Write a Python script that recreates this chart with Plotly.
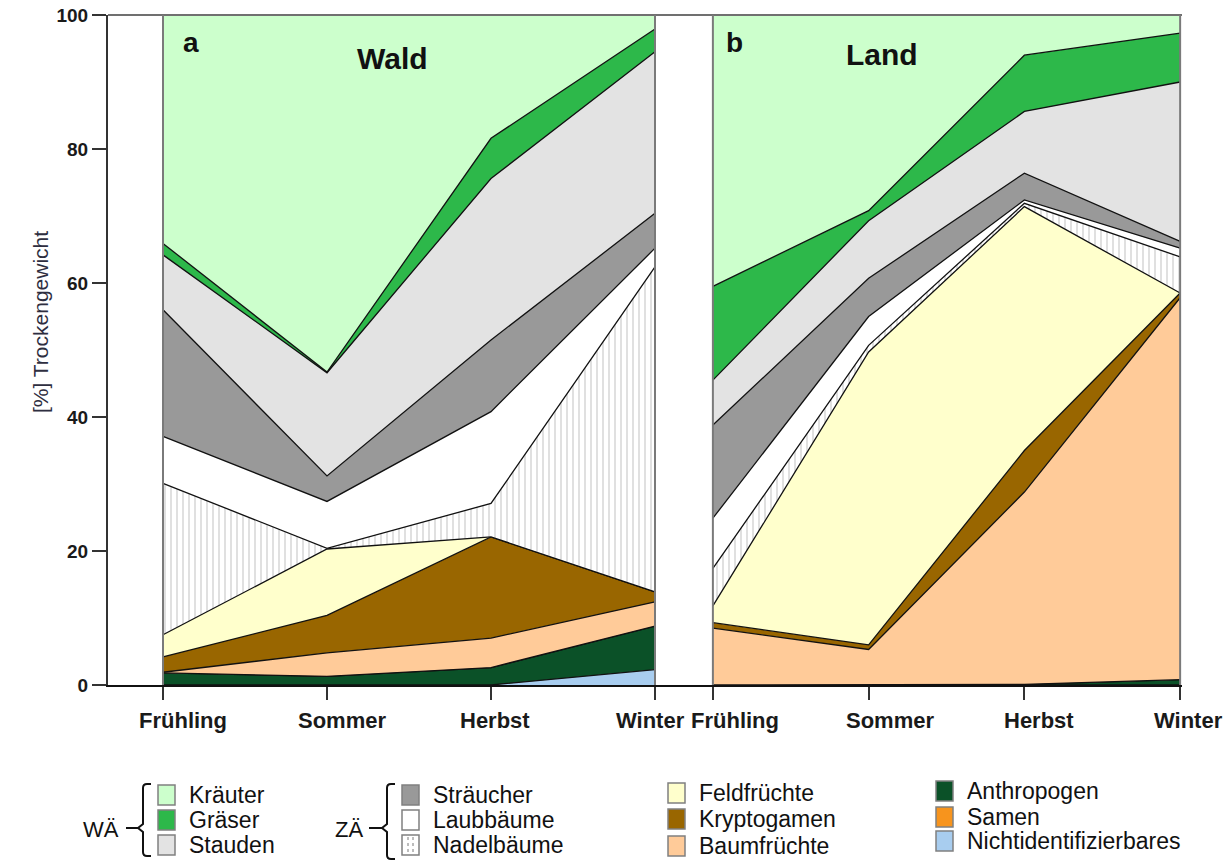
import plotly.graph_objects as go

# ---- data -------------------------------------------------------------
seasons = ["Frühling", "Sommer", "Herbst", "Winter"]
x_pos = [0, 1, 2, 3]

# category order from bottom to top of the stack
categories = ["Nichtidentifizierbares", "Anthropogen", "Samen", "Baumfrüchte",
              "Kryptogamen", "Feldfrüchte", "Nadelbäume", "Laubbäume",
              "Sträucher", "Stauden", "Gräser", "Kräuter"]

# Wald: share of dry weight [%] per season
wald_nichtidentifizierbares = [0.0, 0.0, 0.0, 2.3]
wald_anthropogen = [1.8, 1.3, 2.6, 6.5]
wald_samen = [0.0, 0.0, 0.0, 0.0]
wald_baumfruechte = [0.1, 3.5, 4.4, 3.6]
wald_kryptogamen = [2.3, 5.6, 15.1, 1.5]
wald_feldfruechte = [3.3, 9.9, 0.0, 0.0]
wald_nadelbaeume = [22.6, 0.1, 5.0, 48.5]
wald_laubbaeume = [7.0, 7.0, 13.7, 2.8]
wald_straeucher = [18.9, 3.8, 10.7, 5.2]
wald_stauden = [8.2, 15.4, 24.1, 24.1]
wald_graeser = [1.7, 0.1, 6.0, 3.4]
wald_kraeuter = [34.1, 53.3, 18.4, 2.1]

# Land: share of dry weight [%] per season
land_nichtidentifizierbares = [0.0, 0.0, 0.0, 0.0]
land_anthropogen = [0.0, 0.0, 0.1, 0.8]
land_samen = [0.0, 0.0, 0.0, 0.0]
land_baumfruechte = [8.5, 5.3, 28.7, 57.0]
land_kryptogamen = [0.8, 0.7, 6.2, 0.7]
land_feldfruechte = [2.5, 43.7, 36.4, 0.0]
land_nadelbaeume = [5.6, 1.0, 0.5, 5.4]
land_laubbaeume = [7.5, 4.3, 0.5, 1.3]
land_straeucher = [13.9, 5.7, 4.0, 1.0]
land_stauden = [6.7, 8.6, 9.2, 23.8]
land_graeser = [14.0, 1.5, 8.4, 7.3]
land_kraeuter = [40.5, 29.2, 6.0, 2.7]

wald_series = [wald_nichtidentifizierbares, wald_anthropogen, wald_samen,
               wald_baumfruechte, wald_kryptogamen, wald_feldfruechte,
               wald_nadelbaeume, wald_laubbaeume, wald_straeucher,
               wald_stauden, wald_graeser, wald_kraeuter]
land_series = [land_nichtidentifizierbares, land_anthropogen, land_samen,
               land_baumfruechte, land_kryptogamen, land_feldfruechte,
               land_nadelbaeume, land_laubbaeume, land_straeucher,
               land_stauden, land_graeser, land_kraeuter]

colors = {
    "Nichtidentifizierbares": "#a8cdef",
    "Anthropogen": "#0b5128",
    "Samen": "#f7941d",
    "Baumfrüchte": "#ffcb99",
    "Kryptogamen": "#996600",
    "Feldfrüchte": "#ffffcc",
    "Nadelbäume": "#ffffff",
    "Laubbäume": "#ffffff",
    "Sträucher": "#999999",
    "Stauden": "#e3e3e3",
    "Gräser": "#2db84a",
    "Kräuter": "#ccffcc",
}

# ---- page geometry (pixels) -------------------------------------------
W, H = 1231, 861
L, R, T, B = 108, 1182, 15, 685


def px(x):
    return (x - L) / (R - L)


def py(y):
    return (B - y) / (B - T)


FONT = "Liberation Sans, Arial, sans-serif"

fig = go.Figure()

for group, series, xa in (("wald", wald_series, "x"), ("land", land_series, "x2")):
    for name, vals in zip(categories, series):
        kw = {}
        if name == "Nadelbäume":
            kw["fillpattern"] = dict(shape="|", fgcolor="#6e6e6e", bgcolor="white",
                                     size=6, solidity=0.14)
        fig.add_trace(go.Scatter(
            x=x_pos, y=vals, name=name, stackgroup=group, mode="lines",
            line=dict(color="#111111", width=1.3), fillcolor=colors[name],
            xaxis=xa, yaxis="y", showlegend=False, hoverinfo="skip", **kw))

# axis ranges so that Frühling / Winter sit at the panel edges
ua = (655 - 163) / 3
ub = (1182 - 713) / 3
split = 684

axis_common = dict(
    tickvals=x_pos, ticktext=["", "", "", ""], ticks="outside", ticklen=13,
    tickwidth=2, tickcolor="#333333", showline=True, linecolor="#111111",
    linewidth=2, showgrid=False, zeroline=False, anchor="y", automargin=False,
)

fig.update_layout(
    width=W, height=H,
    margin=dict(l=L, r=W - R, t=T, b=H - B, autoexpand=False),
    paper_bgcolor="white", plot_bgcolor="white",
    font=dict(family=FONT, color="#111111"),
    xaxis=dict(domain=[0, px(split)],
               range=[-(163 - L) / ua, 3 + (split - 655) / ua], **axis_common),
    xaxis2=dict(domain=[px(split), 1],
                range=[-(713 - split) / ub, 3.012], **axis_common),
    yaxis=dict(range=[0, 100], tickvals=[0, 20, 40, 60, 80, 100], ticks="outside",
               ticklen=14, tickwidth=2, tickcolor="#333333", showline=True,
               linecolor="#333333", linewidth=2, showgrid=False, zeroline=False,
               anchor="x", automargin=False,
               tickfont=dict(family=FONT, size=19, color="#1a1a1a", weight="bold")),
)

shapes = []
# frame line along the top
shapes.append(dict(type="line", xref="paper", yref="paper", x0=0, x1=1, y0=1, y1=1,
                   line=dict(color="#707070", width=2)))
# panel edges
for xa, xv in (("x", 0), ("x", 3), ("x2", 0), ("x2", 3)):
    shapes.append(dict(type="line", xref=xa, yref="y", x0=xv, x1=xv, y0=0, y1=100,
                       line=dict(color="#7a7a7a", width=2), layer="above"))

annotations = []


def text(x, y, s, size, bold=False, xanchor="center", color="#111111", angle=0):
    annotations.append(dict(
        x=px(x), y=py(y), xref="paper", yref="paper", text=s, showarrow=False,
        xanchor=xanchor, yanchor="middle", textangle=angle,
        font=dict(family=FONT, size=size, color=color,
                  weight="bold" if bold else "normal")))


# season labels under each panel's ticks
label_shift_a = [20, 15, 4, -5]
label_shift_b = [22, 21, 15, 8]
for xa, shifts in (("x", label_shift_a), ("x2", label_shift_b)):
    for xv, lab, sh in zip(x_pos, seasons, shifts):
        annotations.append(dict(
            x=xv, y=py(720), xref=xa, yref="paper", text=lab, showarrow=False,
            xanchor="center", yanchor="middle", xshift=sh,
            font=dict(family=FONT, size=22, color="#1a1a1a", weight="bold")))

# panel letters and titles
text(191, 42, "a", 28, bold=True)
text(392, 58, "Wald", 30, bold=True)
text(734, 42, "b", 28, bold=True)
text(882, 55, "Land", 30, bold=True)

# y-axis title
text(40, 322, "[%] Trockengewicht", 21, color="#2e2e40", angle=-90)

# ---- legend -------------------------------------------------------------
legend_cols = [
    (158, [("Kräuter", 795), ("Gräser", 820), ("Stauden", 845)]),
    (402, [("Sträucher", 795), ("Laubbäume", 820), ("Nadelbäume", 845)]),
    (668, [("Feldfrüchte", 793), ("Kryptogamen", 819), ("Baumfrüchte", 846)]),
    (936, [("Anthropogen", 791), ("Samen", 817), ("Nichtidentifizierbares", 841)]),
]
for x0, items in legend_cols:
    for name, yc in items:
        shapes.append(dict(type="rect", xref="paper", yref="paper",
                           x0=px(x0), x1=px(x0 + 17), y0=py(yc - 10), y1=py(yc + 10),
                           fillcolor=colors[name], line=dict(color="#808080", width=1.5)))
        if name == "Nadelbäume":
            for dx in (6, 11):
                shapes.append(dict(type="line", xref="paper", yref="paper",
                                   x0=px(x0 + dx), x1=px(x0 + dx),
                                   y0=py(yc - 8), y1=py(yc + 8),
                                   line=dict(color="#7a7a7a", width=1, dash="dot")))
        text(x0 + 29, yc, name, 23, xanchor="left")


def brace(xv, xtip, xdash0, top, bot, mid):
    r = 4
    path = (f"M {px(xv + 8)},{py(top)} L {px(xv + r)},{py(top)} "
            f"Q {px(xv)},{py(top)} {px(xv)},{py(top + r)} "
            f"L {px(xv)},{py(mid - 4)} L {px(xtip)},{py(mid)} L {px(xv)},{py(mid + 4)} "
            f"L {px(xv)},{py(bot - r)} Q {px(xv)},{py(bot)} {px(xv + r)},{py(bot)} "
            f"L {px(xv + 8)},{py(bot)}")
    shapes.append(dict(type="path", xref="paper", yref="paper", path=path,
                       line=dict(color="#111111", width=2)))
    shapes.append(dict(type="line", xref="paper", yref="paper",
                       x0=px(xdash0), x1=px(xtip), y0=py(mid), y1=py(mid),
                       line=dict(color="#111111", width=2)))


brace(143, 138, 126, 784, 856, 828)
text(101, 829, "WÄ", 22)
brace(387, 382, 369, 784, 859, 828)
text(349, 829, "ZÄ", 22)

fig.update_layout(shapes=shapes, annotations=annotations)

fig.write_html("out.html")
